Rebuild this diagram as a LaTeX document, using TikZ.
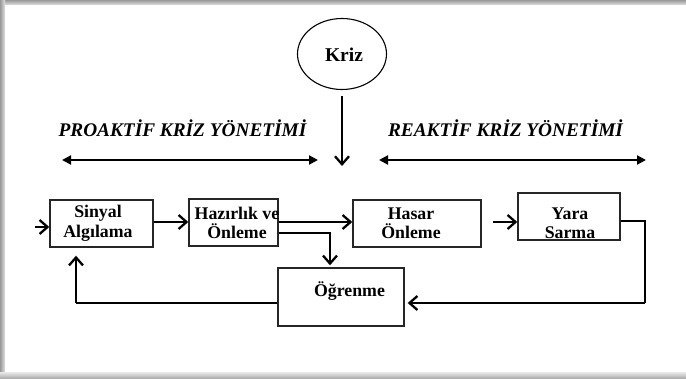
\documentclass[tikz,border=0pt]{standalone}
\usepackage{fontspec}
\setmainfont{Liberation Serif}
\usetikzlibrary{arrows.meta,calc,shapes.geometric}

\tikzset{
  box/.style={draw=black!85, line width=1.4pt, inner sep=0pt},
  txt/.style={font=\fontsize{17.8}{19.5}\selectfont\bfseries, align=center, inner sep=0pt},
  title/.style={font=\fontsize{19.3}{20}\selectfont\bfseries\itshape, inner sep=0pt},
  flow/.style={line width=2.3pt, -{Straight Barb[length=8pt,width=14pt,line width=2.3pt]}},
  plain/.style={line width=2.3pt},
  span/.style={line width=2pt, {Triangle[length=9pt,width=9pt]}-{Triangle[length=9pt,width=9pt]}}
}

\begin{document}
\begin{tikzpicture}[x=1pt,y=-1pt]
  % page and its shadow edges
  \useasboundingbox (0,0) rectangle (686,379);
  \fill[white] (0,0) rectangle (686,379);
  \shade[top color=black!40, bottom color=black!12] (0,0) rectangle (686,5);
  \shade[left color=black!40, right color=black!12] (0,0) rectangle (5,379);
  \shade[top color=black!12, bottom color=black!35] (0,373) rectangle (686,379);

  % crisis
  \node[draw, ellipse, line width=1.1pt, minimum width=89pt, minimum height=71pt] (kriz) at (342,54) {};
  \node[txt, font=\fontsize{19.5}{20}\selectfont\bfseries] (krizT) at (344,55) {Kriz};
  \coordinate (kend) at (342,166);
  \draw[flow] (kriz.south) ++(0,6) coordinate (kstart) -- (kend);

  % the two management phases
  \node[title] (proT) at (182.5,128) {PROAKTİF KRİZ YÖNETİMİ};
  \node[title] (reT) at (505.5,128) {REAKTİF KRİZ YÖNETİMİ};
  \coordinate (pl) at (62,160);
  \coordinate (pr) at (318,160);
  \coordinate (rl) at (379,160);
  \coordinate (rr) at (646,160);
  \draw[span] (pl) -- (pr);
  \draw[span] (rl) -- (rr);

  % process boxes
  \node[box, minimum width=103pt, minimum height=47pt] (sinyal) at (101.5,223.5) {};
  \node[txt] (sinyalT) at (98,223.5) {Sinyal\\Algılama};

  \node[box, minimum width=89pt, minimum height=47pt] (hazir) at (233.5,222.5) {};
  \node[txt] (hazirT) at (237,223) {Hazırlık ve\\Önleme};

  \node[box, minimum width=128pt, minimum height=47pt] (hasar) at (417,223.5) {};
  \node[txt] (hasarT) at (411,223.5) {Hasar\\Önleme};

  \node[box, minimum width=102pt, minimum height=47pt] (yara) at (569,216.5) {};
  \node[txt] (yaraT) at (570,223.5) {Yara\\Sarma};

  \node[box, minimum width=126pt, minimum height=58pt] (ogr) at (341,297) {};
  \node[txt] (ogrT) at (349.5,291) {Öğrenme};

  % flows
  \coordinate (in) at (35,227);
  \draw[flow] (in) -- (sinyal.west |- in);
  \draw[flow] (sinyal.east |- 0,222) -- (hazir.west |- 0,222);
  \draw[flow] (hazir.east |- 0,222) -- (hasar.west |- 0,222);
  \draw[flow] (hazir.east |- 0,233) -| ($(ogr.north)+(-11,-2)$);

  \coordinate (hs) at (493,222);
  \draw[flow] (hs) -- (yara.west |- hs);

  \coordinate (rc) at (645,303);
  \draw[plain] (yara.east |- 0,221) -| (rc);
  \draw[flow] (rc) -- ($(ogr.east |- rc)+(3,0)$);

  \coordinate (fb) at (76,303);
  \draw[plain] (ogr.west |- fb) -- (fb);
  \draw[flow] (fb) -- ($(sinyal.south -| fb)+(0,8)$);
\end{tikzpicture}
\end{document}
